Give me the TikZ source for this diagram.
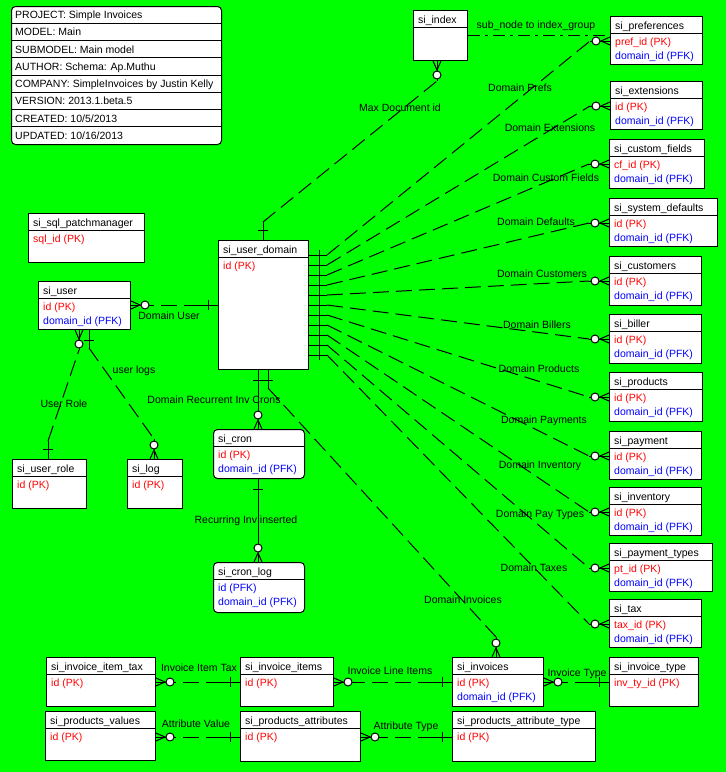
\documentclass[tikz,border=0pt]{standalone}
\usepackage{fontspec}
\setmainfont{Liberation Sans}
\usetikzlibrary{calc}
\definecolor{bggreen}{RGB}{0,255,0}
\definecolor{pkred}{RGB}{255,0,0}
\definecolor{pfkblue}{RGB}{0,0,255}

% entity: [style] name, x, y, width, height, title, rows (text/colour)
\newcommand{\entity}[8][]{%
  \node[entbox,#1,minimum width=#5pt,minimum height=#6pt,anchor=north west] (#2) at (#3,#4) {};
  \draw[line width=1pt] ([yshift=-17pt]#2.north west) -- ([yshift=-17pt]#2.north east);
  \node[enttext,anchor=base west] (#2-t) at ([xshift=5pt,yshift=-13pt]#2.north west) {#7};
  \foreach \txt/\col [count=\k] in {#8}
    \node[enttext,text=\col,anchor=base west] (#2-\k)
      at ([xshift=5pt,yshift={-15pt-14pt*\k}]#2.north west) {\txt};
}

% relation: [line style] parent point, parent angle, child point, child angle
\newcommand{\rel}[5][reldash]{%
  \coordinate (pp) at (#2);
  \coordinate (cp) at (#4);
  \draw[relsolid] (pp) -- ($(pp)+(#3:18)$) coordinate (rp);
  \draw[relsolid] ($(pp)+(#3:10)+(#3+90:5)$) -- ($(pp)+(#3:10)+(#3-90:5)$);
  \draw[relsolid] (cp) -- ($(cp)+(#5:20)$) coordinate (rc);
  \draw[relsolid] ($(cp)+(#5+90:4)$) -- ($(cp)+(#5:9)$) -- ($(cp)+(#5-90:4)$);
  \draw[relsolid,fill=white] ($(cp)+(#5:14)$) circle (4pt);
  \draw[#1] (rp) -- (rc);
}

\begin{document}
\begin{tikzpicture}[x=1pt,y=-1pt,
   entbox/.style={draw,fill=white,line width=1pt,inner sep=0},
   enttext/.style={font=\fontsize{10.5}{12}\selectfont,inner sep=0},
   relsolid/.style={line width=1pt},
   reldash/.style={line width=1pt,dash pattern=on 16pt off 7pt},
   subline/.style={line width=1pt,dash pattern=on 12pt off 5pt on 3pt off 5pt},
   rellabel/.style={font=\fontsize{10.5}{12}\selectfont,inner sep=0,anchor=base}]
   \useasboundingbox (0,0) rectangle (726,772);
   \fill[bggreen] (0,0) rectangle (726,772);

   % model info
   \node[entbox,rounded corners=4pt,minimum width=210pt,minimum height=138pt,
      anchor=north west] (info) at (11,6) {};
   \foreach \i in {1,...,7}
      \draw[line width=1pt] ([yshift={-17.25pt*\i}]info.north west) --
      ([yshift={-17.25pt*\i}]info.north east);
   \foreach \txt [count=\i] in {PROJECT: Simple Invoices, MODEL: Main,
      SUBMODEL: Main model, AUTHOR: Schema: Ap.Muthu,
      COMPANY: SimpleInvoices by Justin Kelly, VERSION: 2013.1.beta.5,
      CREATED: 10/5/2013, UPDATED: 10/16/2013}
      \node[enttext,anchor=base west] (info-\i)
      at ([xshift=4pt,yshift={-12.5pt-17.25pt*(\i-1)}]info.north west) {\txt};

   % si_index
   \node[entbox,minimum width=54pt,minimum height=50pt,anchor=north west] (idx) at (413,10) {};
   \draw[line width=1pt] ([yshift=-17pt]idx.north west) -- ([yshift=-17pt]idx.north east);
   \node[enttext,anchor=base west] (idx-t) at ([xshift=5pt,yshift=-13pt]idx.north west) {si\_index};

   % right column
   \entity{prefs}{610}{16}{92}{48}{si\_preferences}{pref\_id (PK)/pkred, domain\_id (PFK)/pfkblue}
   \entity{ext}{610}{81}{92}{48}{si\_extensions}{id (PK)/pkred, domain\_id (PFK)/pfkblue}
   \entity{cfields}{609}{139}{95}{49}{si\_custom\_fields}{cf\_id (PK)/pkred, domain\_id (PFK)/pfkblue}
   \entity{sysdef}{609}{198}{108}{48}{si\_system\_defaults}{id (PK)/pkred, domain\_id (PFK)/pfkblue}
   \entity{cust}{609}{256}{92}{49}{si\_customers}{id (PK)/pkred, domain\_id (PFK)/pfkblue}
   \entity{biller}{609}{314}{92}{49}{si\_biller}{id (PK)/pkred, domain\_id (PFK)/pfkblue}
   \entity{prod}{609}{372}{93}{49}{si\_products}{id (PK)/pkred, domain\_id (PFK)/pfkblue}
   \entity{pay}{609}{431}{92}{48}{si\_payment}{id (PK)/pkred, domain\_id (PFK)/pfkblue}
   \entity{inv}{609}{487}{92}{48}{si\_inventory}{id (PK)/pkred, domain\_id (PFK)/pfkblue}
   \entity{paytypes}{609}{543}{103}{48}{si\_payment\_types}{pt\_id (PK)/pkred, domain\_id (PFK)/pfkblue}
   \entity{tax}{609}{599}{92}{48}{si\_tax}{tax\_id (PK)/pkred, domain\_id (PFK)/pfkblue}

   % middle and left
   \entity{domain}{218}{240}{90}{129}{si\_user\_domain}{id (PK)/pkred}
   \entity{sqlpm}{28}{213}{116}{49}{si\_sql\_patchmanager}{sql\_id (PK)/pkred}
   \entity{user}{38}{281}{92}{48}{si\_user}{id (PK)/pkred, domain\_id (PFK)/pfkblue}
   \entity{urole}{12}{459}{74}{49}{si\_user\_role}{id (PK)/pkred}
   \entity{log}{127}{459}{55}{49}{si\_log}{id (PK)/pkred}
   \entity[rounded corners=4pt]{cron}{213}{429}{91}{49}{si\_cron}{id (PK)/pkred, domain\_id (PFK)/pfkblue}
   \entity[rounded corners=4pt]{cronlog}{213}{562}{91}{50}{si\_cron\_log}{id (PFK)/pfkblue, domain\_id (PFK)/pfkblue}

   % bottom rows
   \entity{itemtax}{46}{657}{109}{49}{si\_invoice\_item\_tax}{id (PK)/pkred}
   \entity{items}{240}{657}{93}{49}{si\_invoice\_items}{id (PK)/pkred}
   \entity{invoices}{452}{657}{91}{49}{si\_invoices}{id (PK)/pkred, domain\_id (PFK)/pfkblue}
   \entity{invtype}{609}{657}{89}{49}{si\_invoice\_type}{inv\_ty\_id (PK)/pkred}
   \entity{prodvals}{45}{711}{110}{49}{si\_products\_values}{id (PK)/pkred}
   \entity{prodattr}{240}{711}{120}{50}{si\_products\_attributes}{id (PK)/pkred}
   \entity{attrtype}{452}{711}{143}{50}{si\_products\_attribute\_type}{id (PK)/pkred}

   % relations
   \draw[subline] ([yshift=-25pt]idx.north east) -- ([yshift=-19pt]prefs.north west);
   \rel{[xshift=45pt]domain.north west}{-90}{[xshift=24pt]idx.south west}{90}
   \foreach \ent [count=\i] in {prefs,ext,cfields,sysdef,cust,biller,prod,pay,inv,paytypes,tax}
      \rel{[yshift={-5pt-10pt*\i}]domain.north east}{0}{[yshift=-25pt]\ent.north west}{180};
   \rel{[yshift=-65pt]domain.north west}{180}{[yshift=-24pt]user.north east}{0}
   \rel{[xshift=36pt]urole.north west}{-90}{[xshift=41pt]user.south west}{90}
   \rel{[xshift=51pt]user.south west}{90}{[xshift=27pt]log.north west}{-90}
   \rel[relsolid]{[xshift=40pt]domain.south west}{90}{[xshift=45pt]cron.north west}{-90}
   \rel[relsolid]{[xshift=45pt]cron.south west}{90}{[xshift=45pt]cronlog.north west}{-90}
   \rel{[xshift=50pt]domain.south west}{90}{[xshift=44pt]invoices.north west}{-90}
   \rel{[yshift=-25pt]items.north west}{180}{[yshift=-25pt]itemtax.north east}{0}
   \rel{[yshift=-25pt]invoices.north west}{180}{[yshift=-25pt]items.north east}{0}
   \rel{[yshift=-25pt]invtype.north west}{180}{[yshift=-25pt]invoices.north east}{0}
   \rel{[yshift=-26pt]prodattr.north west}{180}{[yshift=-26pt]prodvals.north east}{0}
   \rel{[yshift=-26pt]attrtype.north west}{180}{[yshift=-26pt]prodattr.north east}{0}

   % relation labels
   \node[rellabel] (lab-sub) at (536,28) {sub\_node to index\_group};
   \node[rellabel] (lab-maxdoc) at (400,111) {Max Document id};
   \node[rellabel] (lab-prefs) at (520,91) {Domain Prefs};
   \node[rellabel] (lab-ext) at (550,131) {Domain Extensions};
   \node[rellabel] (lab-cfields) at (546,181) {Domain Custom Fields};
   \node[rellabel] (lab-sysdef) at (536,225) {Domain Defaults};
   \node[rellabel] (lab-cust) at (542,277) {Domain Customers};
   \node[rellabel] (lab-biller) at (537,328) {Domain Billers};
   \node[rellabel] (lab-prod) at (539,372) {Domain Products};
   \node[rellabel] (lab-pay) at (544,423) {Domain Payments};
   \node[rellabel] (lab-inv) at (540,468) {Domain Inventory};
   \node[rellabel] (lab-paytypes) at (540,517) {Domain Pay Types};
   \node[rellabel] (lab-tax) at (534,571) {Domain Taxes};
   \node[rellabel] (lab-invoices) at (463,603) {Domain Invoices};
   \node[rellabel] (lab-user) at (169,319) {Domain User};
   \node[rellabel] (lab-urole) at (64,407) {User Role};
   \node[rellabel] (lab-log) at (134,373) {user logs};
   \node[rellabel] (lab-cron) at (214,403) {Domain Recurrent Inv Crons};
   \node[rellabel] (lab-cronlog) at (246,523) {Recurring Inv inserted};
   \node[rellabel] (lab-itemtax) at (199,671) {Invoice Item Tax};
   \node[rellabel] (lab-items) at (390,674) {Invoice Line Items};
   \node[rellabel] (lab-invtype) at (577,676) {Invoice Type};
   \node[rellabel] (lab-prodvals) at (196,727) {Attribute Value};
   \node[rellabel] (lab-attrtype) at (406,729) {Attribute Type};
\end{tikzpicture}
\end{document}
